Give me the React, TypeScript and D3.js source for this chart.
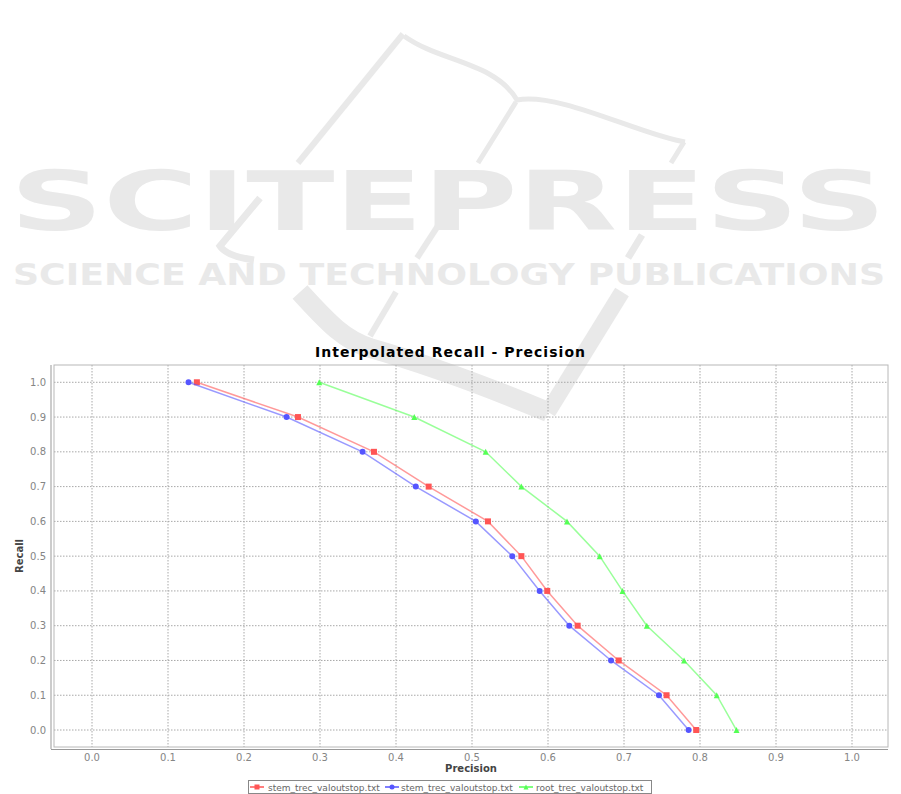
import React from "react";
import * as d3 from "d3";

const recallLevels = [1.0, 0.9, 0.8, 0.7, 0.6, 0.5, 0.4, 0.3, 0.2, 0.1, 0.0];
const stemRedPrecision = [0.138, 0.271, 0.371, 0.443, 0.521, 0.565, 0.599, 0.639, 0.693, 0.756, 0.795];
const stemBluePrecision = [0.127, 0.256, 0.356, 0.426, 0.505, 0.553, 0.589, 0.628, 0.683, 0.746, 0.785];
const rootGreenPrecision = [0.299, 0.424, 0.518, 0.565, 0.625, 0.668, 0.698, 0.730, 0.779, 0.822, 0.848];
const seriesNames = ["stem_trec_valoutstop.txt", "stem_trec_valoutstop.txt", "root_trec_valoutstop.txt"];
const seriesColors = ["#ff5555", "#5555ff", "#55ff55"];
const xTicks = [0, 0.1, 0.2, 0.3, 0.4, 0.5, 0.6, 0.7, 0.8, 0.9, 1.0];
const yTicks = [0, 0.1, 0.2, 0.3, 0.4, 0.5, 0.6, 0.7, 0.8, 0.9, 1.0];

const W = 901, H = 794;
const L = 54, R = 888, T = 365, B = 747;

export default function App() {
  const x = d3.scaleLinear().domain([-0.05, 1.05]).range([54, 890]);
  const y = d3.scaleLinear().domain([-0.05, 1.05]).range([747.4, 364.9]);
  const series = [stemRedPrecision, stemBluePrecision, rootGreenPrecision].map((p, i) => ({
    name: seriesNames[i],
    color: seriesColors[i],
    pts: p.map((v, j) => [v, recallLevels[j]] as [number, number]),
  }));
  const line = d3.line<[number, number]>().x(d => x(d[0])).y(d => y(d[1]));
  const wm = "#e9e9e9";
  const marker = (i: number, cx: number, cy: number, key: any, size = 3) => {
    const c = seriesColors[i];
    if (i === 0) return <rect key={key} x={cx - size} y={cy - size} width={size * 2} height={size * 2} fill={c} />;
    if (i === 1) return <circle key={key} cx={cx} cy={cy} r={size} fill={c} />;
    return <path key={key} d={`M${cx},${cy - size}L${cx + size},${cy + size}L${cx - size},${cy + size}Z`} fill={c} />;
  };
  const legendItems = [
    { lx: 250, tx: 268 },
    { lx: 385, tx: 401 },
    { lx: 519, tx: 536 },
  ];
  return (
    <svg width={W} height={H} style={{ position: "absolute", left: 0, top: 0 }}>
      <rect x={0} y={0} width={W} height={H} fill="#fff" />
      {/* watermark */}
      <g fill="none" stroke={wm} strokeLinecap="butt">
        <path d="M403,34 L298,163" strokeWidth={6} />
        <path d="M404,36 C440,62 495,62 517,100 C560,92 640,135 685,142" strokeWidth={5} />
        <path d="M516,102 L478,163" strokeWidth={5} />
        <path d="M684,142 L671,163" strokeWidth={5} />
        <path d="M260,198 L220,246 C225,254 240,258 254,260" strokeWidth={7} />
        <path d="M445,215 L417,258" strokeWidth={6} />
        <path d="M642,235 L628,258" strokeWidth={7} />
        <path d="M300,292 C330,325 345,340 370,348 C430,365 500,392 548,412" strokeWidth={20} />
        <path d="M548,412 L622,292" strokeWidth={16} />
        <path d="M396,292 L370,336" strokeWidth={6} />
      </g>
      <text x={10} y={230} fontFamily="DejaVu Sans" fontWeight="bold" fontSize={82} fill={wm}
        textLength={876} lengthAdjust="spacingAndGlyphs">SCITEPRESS</text>
      <text x={13} y={285} fontFamily="DejaVu Sans" fontWeight="bold" fontSize={31} fill={wm}
        textLength={872} lengthAdjust="spacingAndGlyphs">SCIENCE AND TECHNOLOGY PUBLICATIONS</text>

      {/* title */}
      <text x={315} y={357} fontFamily="DejaVu Sans" fontWeight="bold" fontSize={14} fill="#000"
        textLength={270} lengthAdjust="spacing">
        Interpolated Recall - Precision
      </text>

      {/* grid */}
      <g stroke="#a8a8a8" strokeWidth={1} strokeDasharray="1.5,1.5">
        {xTicks.map(t => <line key={"gx" + t} x1={x(t)} x2={x(t)} y1={T} y2={B} />)}
        {yTicks.map(t => <line key={"gy" + t} x1={L} x2={R} y1={y(t)} y2={y(t)} />)}
      </g>
      <rect x={L} y={T} width={R - L} height={B - T} fill="none" stroke="#b8b8b8" strokeWidth={1} />
      <line x1={51} x2={51} y1={T} y2={B + 2} stroke="#999" strokeWidth={1} />
      <line x1={51} x2={R} y1={749.5} y2={749.5} stroke="#999" strokeWidth={1} />

      {/* tick labels */}
      <g fontFamily="DejaVu Sans" fontSize={10} fill="#858585">
        {yTicks.map(t => (
          <text key={"ty" + t} x={46} y={y(t) + 3.5} textAnchor="end">{t.toFixed(1)}</text>
        ))}
        {xTicks.map(t => (
          <text key={"tx" + t} x={x(t)} y={761} textAnchor="middle">{t.toFixed(1)}</text>
        ))}
      </g>
      <text x={471} y={772} textAnchor="middle" fontFamily="DejaVu Sans" fontWeight="bold" fontSize={10} fill="#444">Precision</text>
      <text transform="translate(23,556) rotate(-90)" textAnchor="middle" fontFamily="DejaVu Sans" fontWeight="bold" fontSize={10} fill="#444">Recall</text>

      {/* series */}
      {series.map((s, i) => (
        <g key={"s" + i}>
          <path d={line(s.pts) || ""} fill="none" stroke={s.color} strokeOpacity={0.6} strokeWidth={1.5} />
          {s.pts.map((p, j) => marker(i, x(p[0]), y(p[1]), "m" + i + "-" + j))}
        </g>
      ))}

      {/* legend */}
      <rect x={248.5} y={780.5} width={403} height={13} fill="#fff" stroke="#888" strokeWidth={1} />
      {legendItems.map((it, i) => (
        <g key={"lg" + i}>
          <line x1={it.lx} x2={it.lx + 14} y1={787} y2={787} stroke={seriesColors[i]} strokeWidth={1.5} />
          {marker(i, it.lx + 7, 787, "lm" + i, 2.5)}
          <text x={it.tx} y={790.5} fontFamily="DejaVu Sans" fontSize={9} fill="#666">{seriesNames[i]}</text>
        </g>
      ))}
    </svg>
  );
}
